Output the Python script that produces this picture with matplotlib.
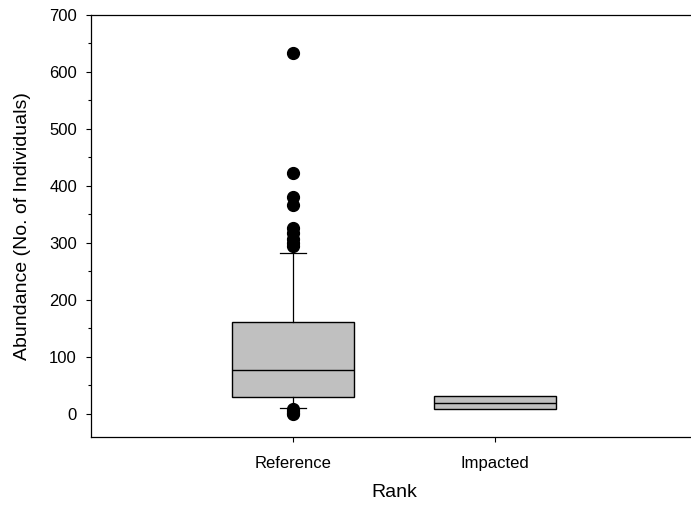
import matplotlib.pyplot as plt
import numpy as np

plt.rcParams['font.family'] = ['Liberation Sans', 'DejaVu Sans']

groups = ['Reference', 'Impacted']
q1 = [30, 8]
med = [77, 20]
q3 = [162, 31]
whislo = [11, 8]
whishi = [283, 31]
fliers = [
    [633, 423, 381, 367, 327, 317, 307, 300, 295, 8, 5, 2, 0],
    [],
]

stats = []
for i in range(len(groups)):
    stats.append(dict(label=groups[i], q1=q1[i], med=med[i], q3=q3[i],
                      whislo=whislo[i], whishi=whishi[i],
                      fliers=np.array(fliers[i])))

fig = plt.figure(figsize=(6.91, 5.15), dpi=100)
ax = fig.add_axes([91/691, 1-436.7/515, 606/691, (436.7-15)/515])

ax.bxp(stats, positions=[1, 2], widths=0.6, patch_artist=True,
       capwidths=[0.125, 0.0],
       boxprops=dict(facecolor='#c0c0c0', edgecolor='black', linewidth=1),
       medianprops=dict(color='black', linewidth=1),
       whiskerprops=dict(color='black', linewidth=0.9),
       capprops=dict(color='black', linewidth=0.9),
       flierprops=dict(marker='o', markerfacecolor='black',
                       markeredgecolor='black', markersize=8.5))

ax.set_xlim(0, 3)
ax.set_ylim(-40, 700)
ax.set_yticks(np.arange(0, 701, 100))
ax.set_yticks(np.arange(50, 701, 100), minor=True)
ax.set_xticks([1, 2])
ax.set_xticklabels(groups)
ax.tick_params(axis='both', which='major', direction='out', length=3.6,
               width=0.8, labelsize=12, pad=6.5)
ax.tick_params(axis='y', which='minor', direction='out', length=2.2, width=0.8)
ax.tick_params(axis='x', pad=10)

ax.spines['right'].set_visible(False)
for s in ['left', 'top', 'bottom']:
    ax.spines[s].set_linewidth(0.9)

ax.set_ylabel('Abundance (No. of Individuals)', fontsize=14, labelpad=13)
ax.set_xlabel('Rank', fontsize=14, labelpad=10)

fig.savefig('out.png', dpi=100)
